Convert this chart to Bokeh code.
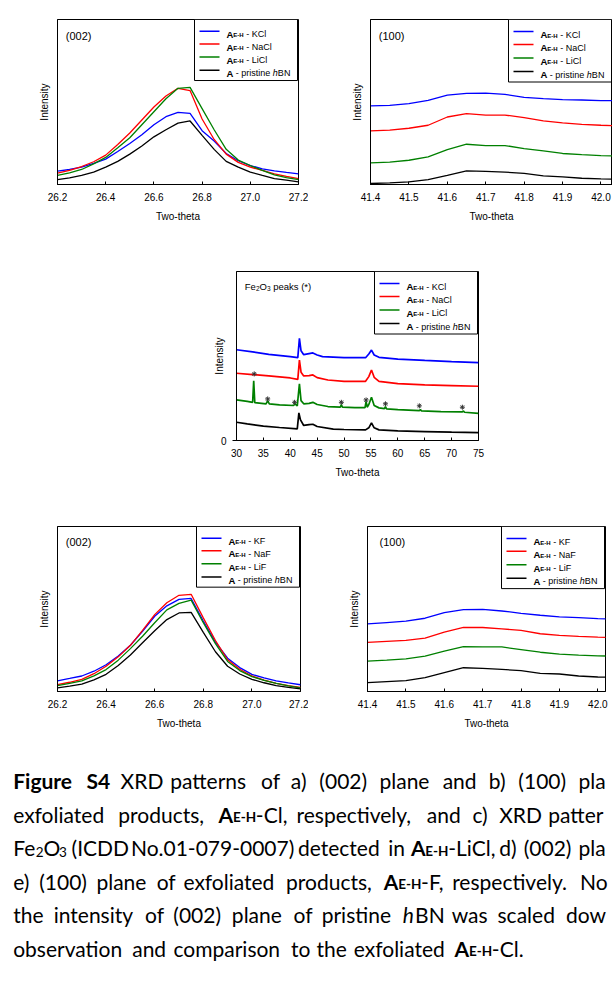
from bokeh.plotting import figure
from bokeh.layouts import column, row
from bokeh.models import Range1d, FixedTicker, Label, PrintfTickFormatter
from bokeh.core.properties import value
from bokeh.embed import file_html
from bokeh.resources import INLINE

AX_FONT = "Liberation Sans"
CAP_FONT = "Lato"

# ---------------- data (arbitrary intensity units) ----------------
a_x = [26.20, 26.25, 26.30, 26.35, 26.40, 26.45, 26.50, 26.55, 26.60, 26.65, 26.70,
       26.75, 26.80, 26.85, 26.90, 26.95, 27.00, 27.05, 27.10, 27.15, 27.20]
a_kcl = [8.1, 9.1, 10.5, 12.8, 15.4, 20.0, 24.9, 30.2, 36.2, 41.1, 43.7,
         43.1, 32.6, 26.3, 18.8, 14.4, 11.5, 9.5, 8.3, 7.3, 6.5]
a_nacl = [6.9, 8.5, 10.9, 13.8, 17.8, 24.3, 31.2, 39.1, 47.0, 53.6, 58.3,
          56.9, 39.7, 27.3, 18.4, 13.4, 10.5, 8.5, 6.5, 4.9, 3.6]
a_licl = [5.5, 7.1, 9.1, 12.5, 16.4, 22.3, 28.3, 36.2, 44.1, 52.0, 58.3,
          58.9, 46.0, 33.2, 21.3, 14.8, 11.5, 8.5, 5.9, 4.2, 3.0]
a_hbn = [3.0, 4.0, 5.5, 7.5, 10.5, 14.0, 18.4, 23.3, 28.9, 33.2, 37.2,
         38.5, 29.8, 21.3, 14.0, 10.5, 7.5, 5.5, 3.6, 2.6, 1.6]

b_x = [41.40, 41.45, 41.50, 41.55, 41.60, 41.65, 41.70, 41.75, 41.80, 41.85, 41.90, 41.95, 42.00, 42.03]
b_kcl = [47.6, 48.0, 49.0, 51.0, 54.2, 55.2, 55.4, 54.6, 52.8, 52.0, 51.4, 51.2, 50.8, 50.8]
b_nacl = [32.5, 32.9, 34.1, 35.9, 40.9, 42.9, 42.1, 42.1, 40.5, 38.5, 37.3, 36.5, 35.9, 35.7]
b_licl = [13.1, 13.5, 14.7, 16.7, 21.2, 24.4, 23.6, 23.6, 21.8, 20.4, 18.8, 18.1, 17.5, 17.3]
b_hbn = [0.6, 1.0, 1.6, 3.0, 5.6, 8.3, 7.9, 7.5, 6.7, 5.2, 4.6, 3.8, 3.4, 3.2]

c_kcl_x = [30, 33, 36, 40, 41.4, 41.7, 42.0, 42.5, 43.5, 44.2, 45, 46, 50, 54, 54.6, 55.1, 55.6, 56.5, 60, 65, 70, 75]
c_kcl_y = [53.7, 52.4, 51.0, 49.6, 49.0, 60.4, 53.1, 50.8, 51.4, 51.8, 50.6, 49.6, 49.0, 49.0, 51.2, 53.5, 50.6, 49.2, 48.2, 47.4, 46.7, 46.1]
c_nacl_x = [30, 33, 36, 40, 41.4, 41.7, 42.0, 42.5, 43.5, 44.2, 45, 47, 50, 54, 54.6, 55.1, 55.6, 56.5, 60, 65, 70, 75]
c_nacl_y = [39.8, 39.0, 38.2, 37.0, 36.2, 47.6, 40.4, 38.2, 38.4, 38.8, 37.2, 35.8, 35.0, 35.0, 37.8, 41.7, 37.4, 35.0, 33.7, 32.9, 32.5, 32.1]
c_licl_x = [30, 32, 33.0, 33.2, 33.4, 35.5, 35.8, 36.1, 38, 40.6, 40.9, 41.3, 41.7, 42.0, 42.5, 43.5, 44.2, 45, 47,
            49.3, 49.5, 49.7, 52, 53.9, 54.1, 54.3, 54.6, 55.1, 55.6, 56.5, 57.5, 57.7, 57.9, 60, 64, 64.2, 64.4,
            68, 72, 72.2, 72.4, 75]
c_licl_y = [24.0, 23.2, 22.6, 35.4, 22.4, 21.7, 23.6, 21.7, 21.1, 20.7, 21.7, 20.5, 33.5, 23.6, 21.7, 22.0, 22.6, 21.3, 20.1,
            19.7, 21.3, 19.7, 19.5, 19.5, 23.2, 19.7, 21.3, 25.6, 20.7, 19.3, 18.9, 20.1, 18.7, 18.3, 17.7, 18.3, 17.5,
            17.1, 16.9, 17.5, 16.7, 16.1]
c_hbn_x = [30, 32, 35, 38, 41.3, 41.6, 41.9, 42.5, 43.5, 44.2, 45, 48, 50, 54, 54.6, 55.1, 55.6, 56.5, 60, 65, 70, 75]
c_hbn_y = [10.8, 9.8, 8.5, 7.7, 6.9, 16.3, 12.2, 8.9, 9.4, 9.6, 8.3, 6.7, 6.5, 6.3, 7.5, 10.4, 7.5, 6.3, 5.7, 5.3, 4.9, 4.7]
fe2o3_x = [33.3, 35.8, 40.8, 49.5, 54.1, 57.7, 64.0, 72.0]
fe2o3_y = [39.4, 24.6, 22.6, 22.6, 24.0, 21.7, 20.5, 19.7]

d_x = a_x
d_kf = [6.5, 7.9, 9.4, 12.3, 16.2, 21.5, 28.0, 36.5, 45.6, 51.9, 55.8,
        56.4, 42.7, 29.9, 20.2, 14.5, 10.4, 8.2, 6.5, 5.2, 4.1]
d_naf = [4.1, 5.6, 7.4, 10.8, 15.3, 21.0, 28.0, 37.0, 46.6, 53.8, 58.3,
         58.9, 44.6, 30.9, 19.2, 13.5, 9.4, 6.9, 4.9, 3.6, 2.5]
d_lif = [3.5, 4.9, 6.5, 9.5, 13.3, 19.0, 26.0, 33.5, 41.7, 49.5, 53.4,
         55.4, 41.7, 29.0, 18.2, 12.7, 9.0, 6.7, 4.9, 3.4, 2.2]
d_hbn = [2.2, 3.3, 4.5, 7.0, 10.4, 15.8, 22.1, 29.5, 36.8, 43.6, 47.6,
         48.0, 35.8, 24.1, 15.3, 10.6, 7.4, 5.3, 3.5, 2.5, 1.6]

e_x = b_x
e_kf = [41.0, 41.8, 42.6, 44.4, 47.8, 49.6, 49.8, 48.8, 47.4, 46.2, 45.2, 44.8, 44.2, 44.0]
e_naf = [29.8, 30.4, 31.0, 32.4, 36.0, 38.8, 38.8, 38.0, 37.0, 35.0, 34.0, 33.4, 33.0, 32.8]
e_lif = [18.4, 19.0, 19.8, 21.4, 24.4, 27.2, 27.0, 27.0, 25.4, 23.8, 22.6, 22.0, 21.6, 21.5]
e_hbn = [5.4, 6.0, 6.6, 8.4, 11.4, 14.4, 14.0, 13.4, 12.6, 11.0, 10.6, 9.4, 8.8, 8.6]

ticks_002 = [26.2, 26.4, 26.6, 26.8, 27.0, 27.2]
ticks_100 = [41.4, 41.5, 41.6, 41.7, 41.8, 41.9, 42.0]
ticks_wide = [30, 35, 40, 45, 50, 55, 60, 65, 70, 75]

salts_cl = ["KCl", "NaCl", "LiCl"]
salts_f = ["KF", "NaF", "LiF"]
COLORS = ["#0000FF", "#FF0000", "#008000", "#000000"]

# ---------------- text metrics (approximate advance widths) ----------------
ARIAL = {' ': 278, '(': 333, ')': 333, '-': 333, '*': 389, '.': 278, ',': 278,
         'A': 667, 'B': 667, 'C': 722, 'E': 667, 'F': 611, 'H': 722, 'K': 667, 'L': 556,
         'N': 722, 'O': 778, 'a': 556, 'c': 500, 'e': 556, 'h': 556, 'i': 222, 'k': 500,
         'l': 222, 'n': 556, 'p': 556, 'r': 333, 's': 500, 't': 278, 'w': 722}
ARIAL_B = {'A': 722, 'E': 667, 'H': 722, '-': 333}


def arial_w(s, size, bold=False):
    tot = 0
    for ch in s:
        if ch.isdigit():
            tot += 556
        elif bold and ch in ARIAL_B:
            tot += ARIAL_B[ch]
        else:
            tot += ARIAL.get(ch, 556)
    return tot / 1000.0 * size


CAL = {' ': 463, '(': 621, ')': 621, ',': 511, '.': 517, '-': 627, '*': 1019,
       'A': 1185, 'B': 1114, 'C': 1092, 'D': 1260, 'E': 1000, 'F': 941, 'H': 1276, 'I': 516,
       'L': 861, 'N': 1322, 'O': 1356, 'R': 1112, 'S': 941, 'X': 1063,
       'a': 981, 'b': 1076, 'c': 866, 'd': 1076, 'e': 1019, 'f': 625, 'g': 964, 'h': 1076,
       'i': 470, 'j': 490, 'k': 931, 'l': 470, 'm': 1636, 'n': 1076, 'o': 1080, 'p': 1076,
       'q': 1076, 'r': 714, 's': 801, 't': 686, 'u': 1076, 'v': 925, 'w': 1464, 'x': 887,
       'y': 927, 'z': 809}


def cal_w(s, em, bold=False):
    tot = sum(1038 if ch.isdigit() else CAL.get(ch, 1000) for ch in s)
    return tot / 2048.0 * em * (1.06 if bold else 1.0)


# ---------------- panels ----------------
def make_panel(X, Y, width, height, bl, br, bt, bb, xr, yr, xticks, fmt, zero_tick=False):
    W = width - bl - br
    H = height - bt - bb
    p = figure(width=width, height=height, x_range=Range1d(*xr), y_range=Range1d(*yr),
               output_backend="svg", toolbar_location=None,
               min_border_left=bl, min_border_right=br, min_border_top=bt, min_border_bottom=bb,
               background_fill_color="white", border_fill_color="white")
    p.outline_line_color = "black"
    p.outline_line_width = 1
    p.grid.visible = False
    for ax in (p.xaxis[0], p.yaxis[0]):
        ax.axis_line_color = "black"
        ax.major_tick_line_color = "black"
        ax.minor_tick_line_color = None
        ax.major_label_text_font = AX_FONT
        ax.major_label_text_font_size = "10px"
        ax.major_label_text_color = "black"
        ax.axis_label_text_font = AX_FONT
        ax.axis_label_text_font_size = "10px"
        ax.axis_label_text_font_style = "normal"
        ax.axis_label_text_color = "black"
    xa = p.xaxis[0]
    xa.ticker = FixedTicker(ticks=xticks)
    xa.formatter = PrintfTickFormatter(format=fmt)
    xa.major_tick_in = 3
    xa.major_tick_out = 0
    xa.major_label_standoff = 8
    xa.axis_label = "Two-theta"
    xa.axis_label_standoff = 7
    ya = p.yaxis[0]
    ya.axis_label = "Intensity"
    if zero_tick:
        ya.ticker = FixedTicker(ticks=[0])
        ya.major_tick_in = 0
        ya.major_tick_out = 4
        ya.major_label_standoff = 6
        ya.axis_label_standoff = -7
    else:
        ya.ticker = FixedTicker(ticks=[])
        ya.axis_label_standoff = 8
    return dict(p=p, W=W, H=H, xr=xr, yr=yr, fx=X + bl, fy=Y + bt)


def to_data(g, rx, ry):
    x0, x1 = g['xr']
    y0, y1 = g['yr']
    return (x0 + (rx - g['fx']) / g['W'] * (x1 - x0),
            y1 - (ry - g['fy']) / g['H'] * (y1 - y0))


def draw_runs(g, rx, ry, runs):
    p = g['p']
    for text, size, style, dy in runs:
        bold = "bold" in style
        lead = len(text) - len(text.lstrip(" "))
        start = rx + arial_w(" " * lead, size, bold)
        x, y = to_data(g, start, ry + dy)
        p.text(x=[x], y=[y], text=[text.strip(" ")], text_font=value(AX_FONT), text_font_size=f"{size}px",
               text_font_style=style, text_baseline="alphabetic", text_align="left", text_color="black")
        rx += arial_w(text, size, bold)


def add_legend(g, salts):
    p = g['p']
    R = g['fx'] + g['W']
    T = g['fy']
    l, t = to_data(g, R - 104, T)
    r, b = to_data(g, R - 1, T + 62.5)
    p.quad(left=[l], right=[r], top=[t], bottom=[b], fill_color="white", line_color="black", line_width=1)
    rows = [T + 12, T + 25, T + 38.5, T + 52]
    labels = [[("A", 9.5, "bold", 0), ("E-H", 6, "bold", 1), (" - " + s, 9, "normal", 0)] for s in salts]
    labels.append([("A", 9.5, "bold", 0), (" - pristine ", 9, "normal", 0), ("h", 9, "italic", 0), ("BN", 9, "normal", 0)])
    for yy, col, runs in zip(rows, COLORS, labels):
        x0, y0 = to_data(g, R - 99, yy)
        x1, _ = to_data(g, R - 79, yy)
        p.line([x0, x1], [y0, y0], line_color=col, line_width=1.5)
        draw_runs(g, R - 72, yy + 3.3, runs)


def add_curves(g, x, series, width=1.3):
    for ys, col in zip(series, COLORS):
        g['p'].line(x, ys, line_color=col, line_width=width)


def add_panel_label(g, text, rx, ry):
    x, y = to_data(g, rx, ry)
    g['p'].add_layout(Label(x=x, y=y, text=text, text_font=CAP_FONT, text_font_size="21px",
                            text_baseline="middle", text_align="left", text_color="black"))


# Row 1
ga = make_panel(0, 0, 308, 248, 57, 10, 19, 60, (26.2, 27.2), (0, 100), ticks_002, "%.1f")
add_curves(ga, a_x, [a_kcl, a_nacl, a_licl, a_hbn])
add_legend(ga, salts_cl)
draw_runs(ga, ga['fx'] + 8.3, ga['fy'] + 16.5, [("(002)", 11, "normal", 0)])
add_panel_label(ga, "a)", 11.7, 224)

gb = make_panel(308, 0, 304, 248, 62, 0, 19, 64, (41.4, 42.03), (0, 100), ticks_100, "%.1f")
add_curves(gb, b_x, [b_kcl, b_nacl, b_licl, b_hbn])
add_legend(gb, salts_cl)
draw_runs(gb, gb['fx'] + 8.3, gb['fy'] + 16, [("(100)", 11, "normal", 0)])
add_panel_label(gb, "b)", 322.7, 223)

# Row 2
gc = make_panel(0, 248, 612, 260, 236, 134, 23, 68, (30, 75), (0, 100), ticks_wide, "%d", zero_tick=True)
for xs, ys, col in zip([c_kcl_x, c_nacl_x, c_licl_x, c_hbn_x], [c_kcl_y, c_nacl_y, c_licl_y, c_hbn_y], COLORS):
    gc['p'].line(xs, ys, line_color=col, line_width=1.7)
gc['p'].scatter(fe2o3_x, fe2o3_y, marker="asterisk", size=5, line_color="#333333", line_width=1)
add_legend(gc, salts_cl)
draw_runs(gc, gc['fx'] + 8.3, gc['fy'] + 15, [("Fe", 9.5, "normal", 0), ("2", 6.5, "normal", 2),
                                              ("O", 9.5, "normal", 0), ("3", 6.5, "normal", 2),
                                              (" peaks (*)", 9.5, "normal", 0)])
add_panel_label(gc, "c)", 201.7, 474)

# Row 3
gd = make_panel(0, 508, 308, 250, 57, 8, 13, 67, (26.2, 27.2), (0, 100), ticks_002, "%.1f")
add_curves(gd, d_x, [d_kf, d_naf, d_lif, d_hbn])
add_legend(gd, salts_f)
draw_runs(gd, gd['fx'] + 8.3, gd['fy'] + 16, [("(002)", 11, "normal", 0)])
add_panel_label(gd, "d)", 8.3, 727)

ge = make_panel(308, 508, 304, 250, 59, 7, 18, 66, (41.4, 42.02), (0, 100), ticks_100, "%.1f")
add_curves(ge, e_x, [e_kf, e_naf, e_lif, e_hbn])
add_legend(ge, salts_f)
draw_runs(ge, ge['fx'] + 12, ge['fy'] + 16, [("(100)", 11, "normal", 0)])
add_panel_label(ge, "e)", 316.7, 727)

# ---------------- caption ----------------
CAP_EM = 23.5          # layout em (Calibri-like metrics), drawn with Lato at CAP_SIZE
CAP_SIZE = 21
SUBF = 0.65
cap_lines = [
    ([[("Figure", "B")], [("S4", "B")], [("XRD", "N")], [("patterns", "N")], [("of", "N")], [("a)", "N")],
      [("(002)", "N")], [("plane", "N")], [("and", "N")], [("b)", "N")], [("(100)", "N")], [("pla", "N")]], 607),
    ([[("exfoliated", "N")], [("products,", "N")], [("A", "B"), ("E-H", "BS"), ("-Cl,", "N")],
      [("respectively,", "N")], [("and", "N")], [("c)", "N")], [("XRD", "N")], [("patter", "N")]], 607),
    ([[("Fe", "N"), ("2", "S"), ("O", "N"), ("3", "S")], [("(ICDD", "N")], [("No.01-079-0007)", "N")],
      [("detected", "N")], [("in", "N")], [("A", "B"), ("E-H", "BS"), ("-LiCl,", "N")], [("d)", "N")],
      [("(002)", "N")], [("pla", "N")]], 607),
    ([[("e)", "N")], [("(100)", "N")], [("plane", "N")], [("of", "N")], [("exfoliated", "N")],
      [("products,", "N")], [("A", "B"), ("E-H", "BS"), ("-F,", "N")], [("respectively.", "N")], [("No", "N")]], 607),
    ([[("the", "N")], [("intensity", "N")], [("of", "N")], [("(002)", "N")], [("plane", "N")], [("of", "N")],
      [("pristine", "N")], [("h", "I"), ("BN", "N")], [("was", "N")], [("scaled", "N")], [("dow", "N")]], 607),
    ([[("observation", "N")], [("and", "N")], [("comparison", "N")], [("to", "N")], [("the", "N")],
      [("exfoliated", "N")], [("A", "B"), ("E-H", "BS"), ("-Cl.", "N")]], None),
]
cap_baselines = [780, 813.5, 847, 880.5, 914, 947.5]


def run_w(text, st):
    em = CAP_EM * (SUBF if st in ("S", "BS") else 1.0)
    return cal_w(text, em, bold=st in ("B", "BS"))


def layout_line(words, x0, target_end):
    widths = [sum(run_w(t, s) for t, s in w) for w in words]
    sp = CAL[' '] / 2048.0 * CAP_EM
    n = len(words) - 1
    extra = 0.0
    if target_end is not None:
        natural_last = x0 + sum(widths[:-1]) + sp * n
        extra = (target_end - widths[-1] - natural_last) / n
    out = []
    x = x0
    for w, wd in zip(words, widths):
        xx = x
        for t, s in w:
            out.append((xx, t, s))
            xx += run_w(t, s)
        x += wd + sp + extra
    return out


cap = figure(width=612, height=227, x_range=Range1d(0, 612), y_range=Range1d(985, 758),
             output_backend="svg", toolbar_location=None, min_border=0,
             x_axis_location=None, y_axis_location=None,
             background_fill_color="white", border_fill_color="white")
cap.outline_line_color = None
cap.grid.visible = False

STYLE = {"N": ("normal", CAP_SIZE, 0), "B": ("bold", CAP_SIZE, 0), "I": ("italic", CAP_SIZE, 0),
         "S": ("normal", 13.5, 4), "BS": ("bold", 13.5, 3)}
groups = {k: dict(x=[], y=[], text=[]) for k in STYLE}
for (words, target), base in zip(cap_lines, cap_baselines):
    for xx, t, s in layout_line(words, 12.7, target):
        groups[s]["x"].append(xx)
        groups[s]["y"].append(base + STYLE[s][2])
        groups[s]["text"].append(t)
for s, gdat in groups.items():
    if not gdat["x"]:
        continue
    fstyle, fsize, _ = STYLE[s]
    cap.text(x=gdat["x"], y=gdat["y"], text=gdat["text"], text_font=value(CAP_FONT),
             text_font_size=f"{fsize}px", text_font_style=fstyle, text_baseline="alphabetic",
             text_align="left", text_color="black")

layout = column(row(ga['p'], gb['p']), row(gc['p']), row(gd['p'], ge['p']), row(cap))
open("out.html", "w").write(file_html(layout, INLINE))
